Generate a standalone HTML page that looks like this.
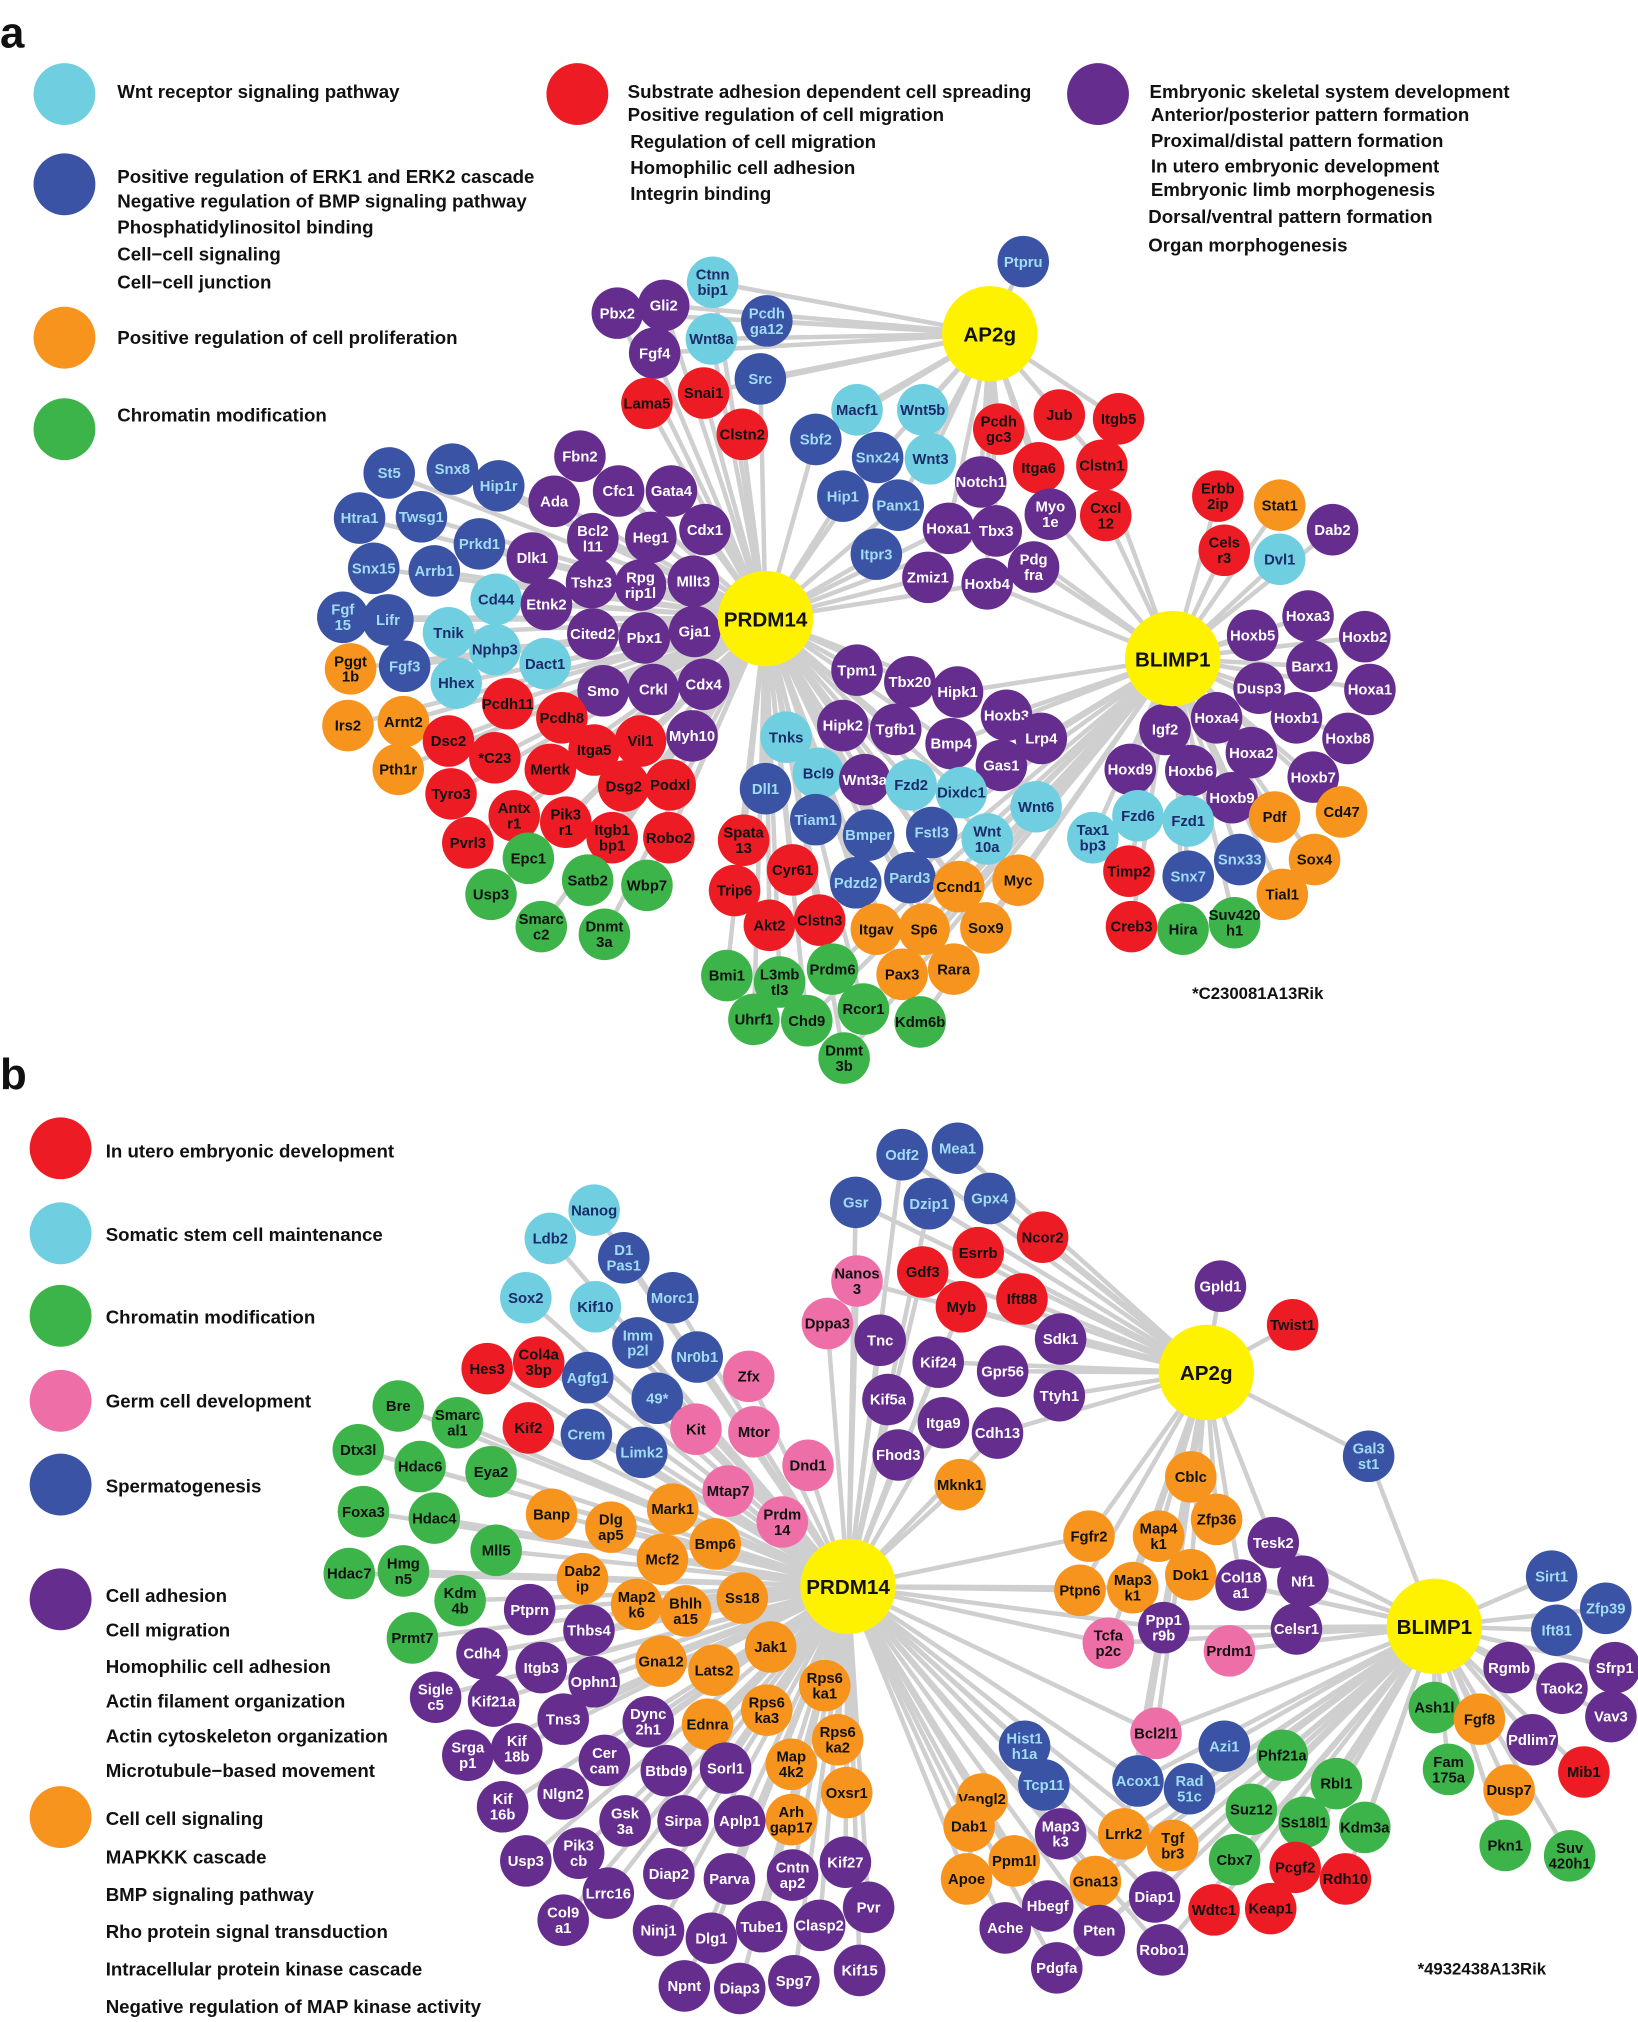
<!DOCTYPE html>
<html><head><meta charset="utf-8">
<style>
html,body{margin:0;padding:0;background:#fff;}
svg{display:block;}
text{font-family:"Liberation Sans",Arial,sans-serif;font-weight:bold;}
</style></head>
<body>
<svg id="fig" xmlns="http://www.w3.org/2000/svg" width="1638" height="2022" viewBox="0 0 1271 1569">
<g id="legend" font-size="14.5" fill="#111">
<text x="0" y="37" font-size="34">a</text>
<circle cx="50" cy="73" r="24" fill="#6fcfe0"/>
<text x="91" y="76">Wnt receptor signaling pathway</text>
<circle cx="50" cy="143" r="24" fill="#3a53a4"/>
<text x="91" y="142">Positive regulation of ERK1 and ERK2 cascade</text>
<text x="91" y="161">Negative regulation of BMP signaling pathway</text>
<text x="91" y="181">Phosphatidylinositol binding</text>
<text x="91" y="202">Cell−cell signaling</text>
<text x="91" y="224">Cell−cell junction</text>
<circle cx="50" cy="262" r="24" fill="#f7941d"/>
<text x="91" y="267">Positive regulation of cell proliferation</text>
<circle cx="50" cy="333" r="24" fill="#3cb44a"/>
<text x="91" y="327">Chromatin modification</text>
<circle cx="448" cy="73" r="24" fill="#ed1c24"/>
<text x="487" y="76">Substrate adhesion dependent cell spreading</text>
<text x="487" y="94">Positive regulation of cell migration</text>
<text x="489" y="115">Regulation of cell migration</text>
<text x="489" y="135">Homophilic cell adhesion</text>
<text x="489" y="155">Integrin binding</text>
<circle cx="852" cy="73" r="24" fill="#652d8e"/>
<text x="892" y="76">Embryonic skeletal system development</text>
<text x="893" y="94">Anterior/posterior pattern formation</text>
<text x="893" y="114">Proximal/distal pattern formation</text>
<text x="893" y="134">In utero embryonic development</text>
<text x="893" y="152">Embryonic limb morphogenesis</text>
<text x="891" y="173">Dorsal/ventral pattern formation</text>
<text x="891" y="195">Organ morphogenesis</text>
<text x="925" y="775" font-size="13">*C230081A13Rik</text>

<text x="0" y="845" font-size="34">b</text>
<circle cx="47" cy="891" r="24" fill="#ed1c24"/>
<text x="82" y="898">In utero embryonic development</text>
<circle cx="47" cy="957" r="24" fill="#6fcfe0"/>
<text x="82" y="963">Somatic stem cell maintenance</text>
<circle cx="47" cy="1021" r="24" fill="#3cb44a"/>
<text x="82" y="1027">Chromatin modification</text>
<circle cx="47" cy="1087" r="24" fill="#ee6fa8"/>
<text x="82" y="1092">Germ cell development</text>
<circle cx="47" cy="1152" r="24" fill="#3a53a4"/>
<text x="82" y="1158">Spermatogenesis</text>
<circle cx="47" cy="1241" r="24" fill="#652d8e"/>
<text x="82" y="1243">Cell adhesion</text>
<text x="82" y="1270">Cell migration</text>
<text x="82" y="1298">Homophilic cell adhesion</text>
<text x="82" y="1325">Actin filament organization</text>
<text x="82" y="1352">Actin cytoskeleton organization</text>
<text x="82" y="1379">Microtubule−based movement</text>
<circle cx="47" cy="1410" r="24" fill="#f7941d"/>
<text x="82" y="1416">Cell cell signaling</text>
<text x="82" y="1446">MAPKKK cascade</text>
<text x="82" y="1475">BMP signaling pathway</text>
<text x="82" y="1504">Rho protein signal transduction</text>
<text x="82" y="1533">Intracellular protein kinase cascade</text>
<text x="82" y="1562">Negative regulation of MAP kinase activity</text>
<text x="1100" y="1532" font-size="13">*4932438A13Rik</text>
</g>
<g id="edges"></g>
<g id="nodes"></g>
</svg>
<script>
const hubsA = [["AP2g",768,259],["PRDM14",594,480],["BLIMP1",910,511]];
const hubsB = [["PRDM14",658,1231],["AP2g",936,1065],["BLIMP1",1113,1262]];
const nodesA = [
["Ptpru","b",794,203],["Ctnn bip1","c",553,219],["Gli2","p",515,237],["Pbx2","p",479,243],["Pcdh ga12","b",595,249],
["Wnt8a","c",552,263],["Fgf4","p",508,274],["Src","b",590,294],["Lama5","r",502,313],["Snai1","r",546,305],
["Clstn2","r",576,337],["Macf1","c",665,318],["Wnt5b","c",716,318],["Sbf2","b",633,341],["Pcdh gc3","r",775,333],
["Jub","r",822,322],["Itgb5","r",868,325],["Snx24","b",681,355],["Wnt3","c",722,356],["Itga6","r",806,363],
["Clstn1","r",855,361],["Hip1","b",654,385],["Panx1","b",697,392],["Notch1","p",761,374],["Myo 1e","p",815,399],
["Cxcl 12","r",858,400],["Erbb 2ip","r",945,385],["Stat1","o",993,392],["Dab2","p",1034,411],["Hoxa1","p",736,410],
["Tbx3","p",773,412],["Pdg fra","p",802,440],["Itpr3","b",680,430],["Cels r3","r",950,427],["Dvl1","c",993,434],
["Zmiz1","p",720,448],["Hoxb4","p",766,453],["Fbn2","p",450,354],["Snx8","b",351,364],["St5","b",302,367],
["Hip1r","b",387,377],["Ada","p",430,389],["Cfc1","p",480,381],["Gata4","p",521,381],["Htra1","b",279,402],
["Twsg1","b",327,401],["Bcl2 l11","p",460,418],["Heg1","p",505,417],["Cdx1","p",547,411],["Prkd1","b",372,422],
["Dlk1","p",413,433],["Snx15","b",290,441],["Arrb1","b",337,443],["Tshz3","p",459,452],["Rpg rip1l","p",497,454],
["Mllt3","p",538,451],["Cd44","c",385,465],["Etnk2","p",424,469],["Fgf 15","b",266,479],["Lifr","b",301,481],
["Tnik","c",348,491],["Nphp3","c",384,504],["Cited2","p",460,492],["Pbx1","p",500,495],["Gja1","p",539,490],
["Fgf3","b",314,517],["Dact1","c",423,515],["Pggt 1b","o",272,519],["Hhex","c",354,530],["Smo","p",468,536],
["Crkl","p",507,535],["Cdx4","p",546,531],["Pcdh11","r",394,546],["Pcdh8","r",436,557],["Irs2","o",270,563],
["Arnt2","o",313,560],["Dsc2","r",348,575],["*C23","r",384,588],["Itga5","r",461,582],["Vil1","r",497,575],
["Myh10","p",537,571],["Pth1r","o",309,597],["Mertk","r",427,597],["Dsg2","r",484,610],["Podxl","r",520,609],
["Tyro3","r",350,616],["Antx r1","r",399,633],["Pik3 r1","r",439,638],["Itgb1 bp1","r",475,650],["Robo2","r",519,650],
["Pvrl3","r",363,654],["Epc1","g",410,666],["Satb2","g",456,683],["Wbp7","g",502,687],["Usp3","g",381,694],
["Smarc c2","g",420,719],["Dnmt 3a","g",469,725],["Tpm1","p",665,520],["Tbx20","p",706,529],["Hipk1","p",743,537],
["Hoxb3","p",781,555],["Hipk2","p",654,563],["Tgfb1","p",695,566],["Lrp4","p",808,573],["Tnks","c",610,572],
["Bmp4","p",738,577],["Gas1","p",777,594],["Bcl9","c",635,600],["Wnt3a","p",671,605],["Fzd2","c",707,609],
["Dixdc1","c",746,615],["Wnt6","c",804,626],["Dll1","b",594,612],["Spata 13","r",577,652],["Tiam1","b",633,636],
["Bmper","b",674,648],["Fstl3","b",723,646],["Wnt 10a","c",766,651],["Cyr61","r",615,675],["Pdzd2","b",664,685],
["Pard3","b",706,681],["Ccnd1","o",744,688],["Myc","o",790,683],["Trip6","r",570,691],["Akt2","r",597,718],
["Clstn3","r",636,714],["Itgav","o",680,721],["Sp6","o",717,721],["Sox9","o",765,720],["Bmi1","g",564,757],
["L3mb tl3","g",605,762],["Prdm6","g",646,752],["Pax3","o",700,756],["Rara","o",740,752],["Uhrf1","g",585,791],
["Chd9","g",626,792],["Rcor1","g",670,783],["Kdm6b","g",714,793],["Dnmt 3b","g",655,821],["Hoxa3","p",1015,478],
["Hoxb5","p",972,493],["Hoxb2","p",1059,494],["Barx1","p",1018,517],["Hoxa1","p",1063,535],["Dusp3","p",977,534],
["Hoxa4","p",944,557],["Hoxb1","p",1006,557],["Igf2","p",904,566],["Hoxa2","p",971,584],["Hoxb8","p",1046,573],
["Hoxd9","p",877,597],["Hoxb6","p",924,598],["Hoxb7","p",1019,603],["Hoxb9","p",956,619],["Fzd6","c",883,633],
["Fzd1","c",922,637],["Pdf","o",989,634],["Cd47","o",1041,630],["Tax1 bp3","c",848,650],["Snx33","b",962,667],
["Sox4","o",1020,667],["Timp2","r",876,676],["Snx7","b",922,680],["Tial1","o",995,694],["Creb3","r",878,719],
["Hira","g",918,721],["Suv420 h1","g",958,716]
];
const nodesB = [
["Odf2","b",700,896],["Mea1","b",743,891],["Gsr","b",664,933],["Dzip1","b",721,934],["Gpx4","b",768,930],
["Nanog","c",461,939],["Ldb2","c",427,961],["D1 Pas1","b",484,976],["Nanos 3","k",665,994],["Gdf3","r",716,987],
["Esrrb","r",759,972],["Ncor2","r",809,960],["Gpld1","p",947,998],["Sox2","c",408,1007],["Kif10","c",462,1014],
["Morc1","b",522,1007],["Myb","r",746,1014],["Ift88","r",793,1008],["Twist1","r",1003,1028],["Dppa3","k",642,1027],
["Imm p2l","b",495,1042],["Tnc","p",683,1040],["Sdk1","p",823,1039],["Hes3","r",378,1062],["Col4a 3bp","r",418,1057],
["Agfg1","b",456,1069],["Nr0b1","b",541,1053],["Zfx","k",581,1068],["Kif24","p",728,1057],["Gpr56","p",778,1064],
["49*","b",510,1085],["Kif5a","p",689,1086],["Ttyh1","p",822,1083],["Gal3 st1","b",1062,1130],["Bre","g",309,1091],
["Smarc al1","g",355,1104],["Kif2","r",410,1108],["Crem","b",455,1113],["Kit","k",540,1109],["Mtor","k",585,1111],
["Itga9","p",732,1104],["Cdh13","p",774,1112],["Dtx3l","g",278,1125],["Hdac6","g",326,1138],["Eya2","g",381,1142],
["Limk2","b",498,1127],["Dnd1","k",627,1137],["Fhod3","p",697,1129],["Mknk1","o",745,1152],["Cblc","o",924,1146],
["Mtap7","k",565,1157],["Foxa3","g",282,1173],["Hdac4","g",337,1178],["Banp","o",428,1175],["Dlg ap5","o",474,1185],
["Mark1","o",522,1171],["Prdm 14","k",607,1181],["Zfp36","o",944,1179],["Fgfr2","o",845,1192],["Map4 k1","o",899,1192],
["Tesk2","p",988,1197],["Mll5","g",385,1203],["Bmp6","o",555,1198],["Dok1","o",924,1222],["Mcf2","o",514,1210],
["Col18 a1","p",963,1230],["Nf1","p",1011,1227],["Hdac7","g",271,1221],["Hmg n5","g",313,1219],["Dab2 ip","o",452,1225],
["Map2 k6","o",494,1245],["Bhlh a15","o",532,1250],["Ss18","o",576,1240],["Ptpn6","o",838,1234],["Map3 k1","o",879,1232],
["Ppp1 r9b","p",903,1263],["Kdm 4b","g",357,1242],["Ptprn","p",411,1249],["Thbs4","p",457,1265],["Celsr1","p",1006,1264],
["Tcfa p2c","k",860,1275],["Prdm1","k",954,1281],["Jak1","o",598,1278],["Gna12","o",513,1289],["Prmt7","g",320,1271],
["Cdh4","p",374,1283],["Itgb3","p",420,1294],["Lats2","o",554,1296],["Ophn1","p",461,1305],["Sigle c5","p",338,1317],
["Kif21a","p",383,1320],["Rps6 ka1","o",640,1308],["Rps6 ka3","o",595,1327],["Tns3","p",437,1334],["Dync 2h1","p",503,1336],
["Ednra","o",549,1338],["Rps6 ka2","o",650,1350],["Bcl2l1","k",897,1345],["Srga p1","p",363,1362],["Kif 18b","p",401,1357],
["Cer cam","p",469,1366],["Map 4k2","o",614,1369],["Hist1 h1a","b",795,1355],["Azi1","b",950,1355],["Phf21a","g",995,1362],
["Btbd9","p",517,1374],["Sorl1","p",563,1372],["Tcp11","b",810,1385],["Acox1","b",883,1382],["Rad 51c","b",923,1388],
["Rbl1","g",1037,1384],["Vangl2","o",762,1396],["Oxsr1","o",657,1391],["Nlgn2","p",437,1392],["Kif 16b","p",390,1402],
["Arh gap17","o",614,1412],["Suz12","g",971,1404],["Ss18l1","g",1012,1414],["Kdm3a","g",1059,1418],["Gsk 3a","p",485,1413],
["Sirpa","p",530,1413],["Aplp1","p",574,1413],["Dab1","o",752,1417],["Map3 k3","p",823,1423],["Lrrk2","o",872,1423],
["Tgf br3","o",910,1432],["Usp3","p",408,1444],["Pik3 cb","p",449,1438],["Cbx7","g",958,1443],["Ppm1l","o",787,1444],
["Diap2","p",519,1454],["Cntn ap2","p",615,1455],["Kif27","p",656,1445],["Parva","p",566,1458],["Apoe","o",750,1458],
["Gna13","o",850,1460],["Pcgf2","r",1005,1449],["Rdh10","r",1044,1458],["Lrrc16","p",472,1469],["Diap1","p",896,1472],
["Pvr","p",674,1480],["Hbegf","p",813,1479],["Col9 a1","p",437,1490],["Ninj1","p",511,1498],["Tube1","p",591,1495],
["Clasp2","p",636,1494],["Ache","p",780,1496],["Pten","p",853,1498],["Wdtc1","r",942,1482],["Keap1","r",986,1481],
["Dlg1","p",552,1504],["Robo1","p",902,1513],["Kif15","p",667,1529],["Pdgfa","p",820,1527],["Npnt","p",531,1541],
["Diap3","p",574,1543],["Spg7","p",616,1537],
["Sirt1","b",1204,1223],["Zfp39","b",1246,1248],["Ift81","b",1208,1265],["Rgmb","p",1171,1294],["Sfrp1","p",1253,1294],
["Taok2","p",1212,1310],["Ash1l","g",1113,1325],["Fgf8","o",1148,1334],["Vav3","p",1250,1332],["Pdlim7","p",1189,1350],
["Fam 175a","g",1124,1373],["Mib1","r",1229,1375],["Dusp7","o",1171,1389],["Pkn1","g",1168,1432],["Suv 420h1","g",1218,1440]
];
const fills = {c:"#6fcfe0",b:"#3a53a4",o:"#f7941d",g:"#3cb44a",r:"#ed1c24",p:"#652d8e",k:"#ee6fa8"};
const textCols = {c:"#1b2a6b",b:"#9fdcf5",o:"#111",g:"#111",r:"#111",p:"#fff",k:"#111"};
const NS = "http://www.w3.org/2000/svg";
const eg = document.getElementById("edges"), ng = document.getElementById("nodes");
function slug(s){return s.toLowerCase().replace(/[^a-z0-9]+/g,"-").replace(/^-|-$/g,"");}
function draw(nodes, hubs, panel){
  nodes.forEach(n=>{
    const d = hubs.map(h=>Math.hypot(h[1]-n[2],h[2]-n[3]));
    const m = Math.min(...d);
    hubs.forEach((h,i)=>{
      if(d[i] <= m*1.3 || (panel==="b" && n[0]==="Gal3 st1" && h[0]!=="PRDM14")){
        const l = document.createElementNS(NS,"line");
        l.setAttribute("x1",h[1]);l.setAttribute("y1",h[2]);
        l.setAttribute("x2",n[2]);l.setAttribute("y2",n[3]);
        l.setAttribute("stroke","#cfcfcf");l.setAttribute("stroke-width","3.5");
        
        
        eg.appendChild(l);
      }
    });
  });
  nodes.forEach(n=>{
    const g = document.createElementNS(NS,"g");
    
    
    const c = document.createElementNS(NS,"circle");
    c.setAttribute("cx",n[2]);c.setAttribute("cy",n[3]);c.setAttribute("r",20);
    c.setAttribute("fill",fills[n[1]]);
    g.appendChild(c);
    const lines = n[0].split(" ");
    lines.forEach((s,i)=>{
      const t = document.createElementNS(NS,"text");
      t.setAttribute("x",n[2]);
      t.setAttribute("y",n[3]+4+(i-(lines.length-1)/2)*12);
      t.setAttribute("text-anchor","middle");t.setAttribute("font-size","11.5");
      t.setAttribute("fill",textCols[n[1]]);
      t.textContent = s;
      g.appendChild(t);
    });
    ng.appendChild(g);
  });
  hubs.forEach(h=>{
    const g = document.createElementNS(NS,"g");
    
    
    const c = document.createElementNS(NS,"circle");
    c.setAttribute("cx",h[1]);c.setAttribute("cy",h[2]);c.setAttribute("r",37);
    c.setAttribute("fill","#fff200");
    g.appendChild(c);
    const t = document.createElementNS(NS,"text");
    t.setAttribute("x",h[1]);t.setAttribute("y",h[2]+6);
    t.setAttribute("text-anchor","middle");t.setAttribute("font-size","16");
    t.setAttribute("fill","#111");
    t.textContent = h[0];
    g.appendChild(t);
    ng.appendChild(g);
  });
}
draw(nodesA, hubsA, "a");
draw(nodesB, hubsB, "b");
</script>
</body></html>
